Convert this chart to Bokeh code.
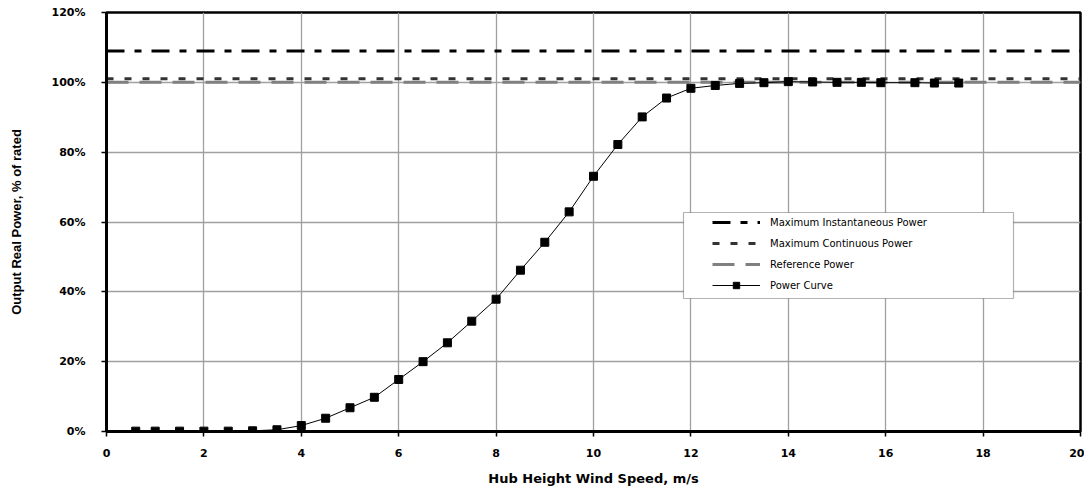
from bokeh.plotting import figure
from bokeh.models import (FixedTicker, PrintfTickFormatter, Legend, LegendItem,
                          BoxAnnotation, Range1d)
from bokeh.embed import file_html
from bokeh.resources import INLINE

# ---- data ----
wind_speed = [0.6, 1.0, 1.5, 2.0, 2.5, 3.0, 3.5, 4.0, 4.5, 5.0, 5.5, 6.0, 6.5,
              7.0, 7.5, 8.0, 8.5, 9.0, 9.5, 10.0, 10.5, 11.0, 11.5, 12.0, 12.5,
              13.0, 13.5, 14.0, 14.5, 15.0, 15.5, 15.9, 16.6, 17.0, 17.5]
power_pct = [0.1, 0.1, 0.1, 0.1, 0.1, 0.2, 0.5, 1.7, 3.8, 6.8, 9.8, 14.9, 20.0,
             25.4, 31.6, 37.9, 46.2, 54.2, 62.9, 73.1, 82.2, 90.1, 95.5, 98.3, 99.1,
             99.7, 99.9, 100.2, 100.1, 100.0, 100.0, 99.9, 99.9, 99.8, 99.8]
x_limits = [0, 20]
max_instantaneous = 109.0
max_continuous = 101.0
reference_power = 100.0
x_ticks = [0, 2, 4, 6, 8, 10, 12, 14, 16, 18, 20]
y_ticks = [0, 20, 40, 60, 80, 100, 120]

p = figure(width=1084, height=488, output_backend="svg", toolbar_location=None,
           x_range=Range1d(0, 20), y_range=Range1d(0, 120),
           min_border_left=106, min_border_right=4, min_border_top=12,
           min_border_bottom=56)
p.background_fill_color = "white"
p.border_fill_color = "white"
p.outline_line_color = "black"
p.outline_line_width = 2.5

# grid
for g in (p.xgrid, p.ygrid):
    g.grid_line_color = "#a0a0a0"
    g.grid_line_width = 1.3
p.xgrid.ticker = FixedTicker(ticks=x_ticks)
p.ygrid.ticker = FixedTicker(ticks=y_ticks)

# axes
p.xaxis.ticker = FixedTicker(ticks=x_ticks)
p.yaxis.ticker = FixedTicker(ticks=y_ticks)
p.yaxis.formatter = PrintfTickFormatter(format="%d%%")
for ax in (p.xaxis[0], p.yaxis[0]):
    ax.axis_line_color = "black"
    ax.axis_line_width = 3
    ax.major_tick_line_color = "black"
    ax.major_tick_line_width = 1.5
    ax.major_tick_in = 0
    ax.major_tick_out = 5
    ax.minor_tick_line_color = None
    ax.major_label_text_font = "DejaVu Sans"
    ax.major_label_text_font_style = "bold"
    ax.major_label_text_font_size = "11px"
    ax.major_label_text_color = "black"
    ax.axis_label_text_color = "black"
    ax.axis_label_text_font_style = "bold"
p.xaxis.major_label_standoff = 12
p.yaxis.major_label_standoff = 16
p.xaxis.axis_label = "Hub Height Wind Speed, m/s"
p.xaxis.axis_label_text_font = "DejaVu Sans"
p.xaxis.axis_label_text_font_size = "13px"
p.xaxis.axis_label_standoff = 11
p.yaxis.axis_label = "Output Real Power, % of rated"
p.yaxis.axis_label_text_font = "Liberation Sans"
p.yaxis.axis_label_text_font_size = "13px"
p.yaxis.axis_label_standoff = 25

# horizontal limit lines
r_inst = p.line(x=x_limits, y=[max_instantaneous] * 2, line_color="black",
                line_width=3, line_dash="18 10 7 10")
r_cont = p.line(x=x_limits, y=[max_continuous] * 2, line_color="#333333",
                line_width=3, line_dash="7 11")
r_ref = p.line(x=x_limits, y=[reference_power] * 2, line_color="#808080",
               line_width=3, line_dash="22 11")

# power curve
r_curve = p.line(x=wind_speed, y=power_pct, line_color="black", line_width=1)
r_pts = p.scatter(x=wind_speed, y=power_pct, marker="square", size=8,
                  fill_color="black", line_color="black")

# legend frame
box = BoxAnnotation(left=683, right=1013, top=212, bottom=298,
                    left_units="canvas", right_units="canvas",
                    top_units="canvas", bottom_units="canvas",
                    fill_color="white", fill_alpha=1.0,
                    line_color="black", line_width=1.2, level="annotation")
p.add_layout(box)

legend = Legend(items=[
    LegendItem(label="Maximum Instantaneous Power", renderers=[r_inst]),
    LegendItem(label="Maximum Continuous Power", renderers=[r_cont]),
    LegendItem(label="Reference Power", renderers=[r_ref]),
    LegendItem(label="Power Curve", renderers=[r_curve, r_pts]),
], location=(603, 135))
legend.margin = 0
legend.padding = 3
legend.spacing = 5
legend.glyph_width = 48
legend.glyph_height = 16
legend.label_height = 16
legend.label_standoff = 10
legend.label_text_font = "DejaVu Sans"
legend.label_text_font_size = "10px"
legend.label_text_color = "black"
legend.border_line_alpha = 0
legend.background_fill_alpha = 0
p.add_layout(legend)

open("out.html", "w").write(file_html(p, INLINE))
